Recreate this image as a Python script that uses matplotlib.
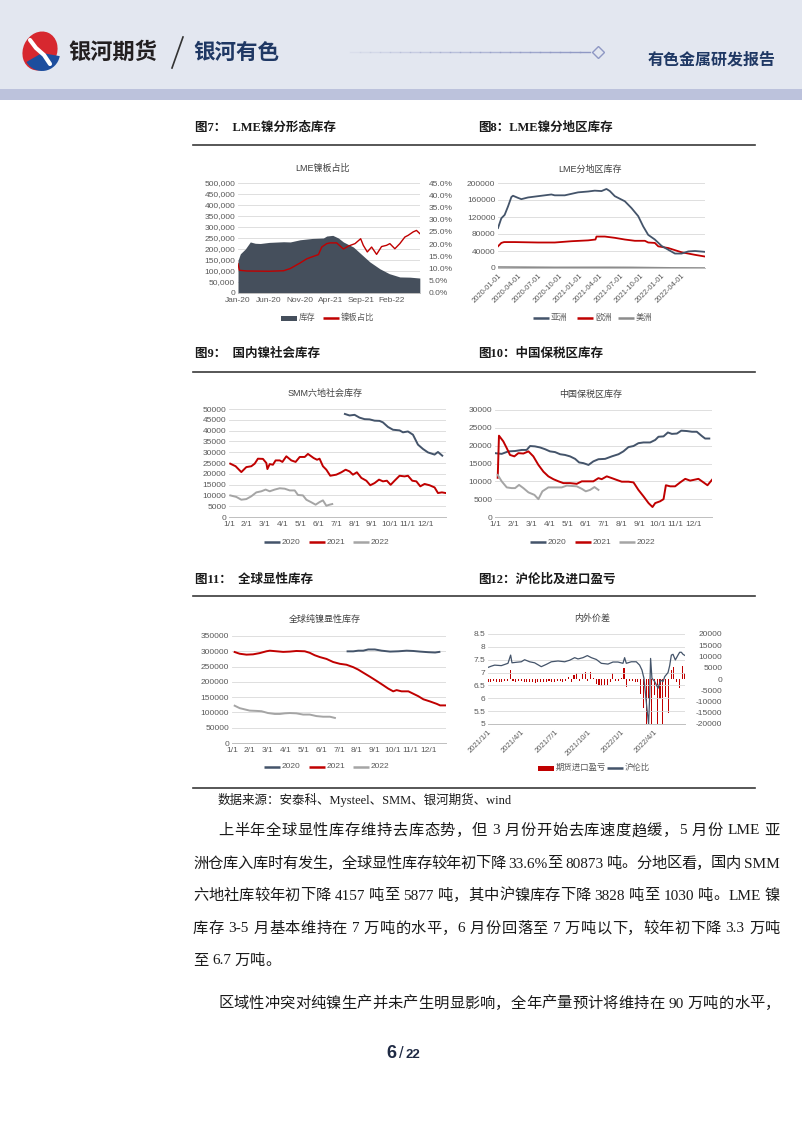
import re
import numpy as np
import matplotlib
matplotlib.use('Agg')
import matplotlib.pyplot as plt
from matplotlib.patches import Rectangle, Ellipse, Wedge
from matplotlib.ticker import FuncFormatter

plt.rcParams['font.family'] = ['Liberation Sans', 'Noto Sans CJK SC']
plt.rcParams['axes.unicode_minus'] = False

W, H = 802, 1133
DARK = '#44546a'
RED = '#c00000'
GREY = '#a5a5a5'
TICK = '#595959'
GRID = '#d9d9d9'
SERIF = ['Liberation Serif', 'Noto Sans CJK SC']
CJK = ['Noto Sans CJK SC', 'DejaVu Sans']

# ---- fig 7: LME stock (area) and plate share (line), x in months from Jan-20
lme_m = [0, 0.38, 1.19, 2.0, 2.81, 3.62, 5.08, 7.41, 8.49, 10.11, 12.11, 13.89, 14.43,
         15.41, 16.32, 17.14, 18.76, 19.95, 21.46, 23.08, 24.59, 26.32, 27.95, 29.57]
lme_stock = [148000, 178000, 200000, 232000, 226000, 225000, 230000, 233000, 232000, 242000,
             248000, 250000, 259000, 262000, 250000, 232000, 209000, 179000, 141000, 110000,
             88000, 73000, 72000, 68000]
share_m = [0, 0.22, 1.46, 5.08, 7.41, 8.49, 10.11, 11.19, 12.27, 13.08, 13.62, 14.43, 14.97,
           16.05, 17.14, 17.95, 19.03, 19.95, 20.38, 21.03, 21.73, 22.54, 23.35, 24.16, 24.70,
           25.51, 26.32, 27.14, 27.68, 28.49, 29.03, 29.57]
share = [0.12, 0.093, 0.09, 0.089, 0.091, 0.10, 0.123, 0.14, 0.15, 0.157, 0.188, 0.202, 0.205,
         0.205, 0.18, 0.192, 0.202, 0.222, 0.195, 0.168, 0.188, 0.158, 0.19, 0.195, 0.202,
         0.181, 0.202, 0.229, 0.236, 0.25, 0.256, 0.243]
lme_xlabels = ['Jan-20', 'Jun-20', 'Nov-20', 'Apr-21', 'Sep-21', 'Feb-22']

# ---- fig 8: LME by region, x in months from 2020-01
asia_m = [0, 0.49, 0.98, 1.48, 1.97, 2.21, 2.95, 3.44, 4.43, 5.90, 7.87, 8.36, 9.84, 11.80,
          13.28, 14.26, 15.25, 15.98, 16.48, 17.21, 18.69, 19.67, 20.66, 21.39, 22.13, 23.11,
          24.10, 25.08, 26.07, 27.05, 28.03, 29.02, 30.49]
asia = [94000, 117000, 125000, 145000, 167000, 170000, 165000, 162000, 166000, 169000, 173000,
        171000, 171000, 178000, 180000, 182000, 181000, 186000, 181000, 169000, 157000, 141000,
        122000, 98000, 78000, 67000, 52000, 43000, 34000, 34000, 39000, 40000, 38000]
europe_m = [0, 0.49, 0.89, 2.46, 5.90, 8.36, 10.82, 13.28, 14.36, 14.51, 15.74, 17.21, 18.69,
            20.16, 21.64, 22.13, 23.11, 23.61, 25.08, 26.07, 27.05, 28.03, 29.02, 30.49]
europe = [51000, 59000, 61000, 61000, 60000, 60000, 63000, 65000, 67000, 74000, 74000, 71000,
          67000, 64000, 64000, 60000, 59000, 51000, 47000, 42000, 37000, 34000, 31000, 27000]
america_m = [0, 8.36, 15.98, 19.67, 25.57, 30.49]
america = [2400, 1500, 1600, 1400, 300, 0]
region_xlabels = ['2020-01-01', '2020-04-01', '2020-07-01', '2020-10-01', '2021-01-01',
                  '2021-04-01', '2021-07-01', '2021-10-01', '2022-01-01', '2022-04-01']

# ---- fig 9: SMM social inventory, x in months from 1/1
smm20_m = [6.49, 6.75, 7.03, 7.31, 7.59, 7.87, 8.15, 8.43, 8.62, 8.90, 9.18, 9.55, 9.74, 10.02,
           10.30, 10.58, 10.86, 11.14, 11.51, 11.70, 11.94]
smm20 = [47700, 47000, 47300, 46000, 45300, 45200, 44600, 44500, 43800, 41700, 40400, 40100,
         39200, 39600, 38100, 33500, 31500, 29900, 28900, 30100, 28400]
smm21_m = [0.07, 0.37, 0.69, 0.97, 1.25, 1.44, 1.62, 1.90, 2.09, 2.15, 2.28, 2.46, 2.61, 2.84,
           2.99, 3.21, 3.49, 3.73, 3.96, 4.24, 4.42, 4.74, 4.93, 5.07, 5.26, 5.45, 5.67, 6.01,
           6.29, 6.53, 6.75, 6.94, 7.16, 7.41, 7.69, 7.91, 8.15, 8.40, 8.62, 8.84, 9.05, 9.27,
           9.55, 9.83, 10.02, 10.26, 10.49, 10.71, 10.95, 11.23, 11.51, 11.70, 11.92, 12.13]
smm21 = [24700, 23500, 20800, 23100, 23500, 24700, 27000, 26900, 25000, 22200, 24500, 24200,
         26200, 26200, 25500, 28100, 26200, 25500, 27800, 27800, 29200, 27300, 26500, 27000,
         23500, 21900, 19100, 19600, 20700, 21900, 21100, 19600, 20700, 18100, 16800, 14700,
         15700, 17300, 16500, 16800, 14900, 16800, 19100, 18800, 19100, 16800, 16500, 14200,
         15300, 14700, 13700, 11100, 11400, 11100]
smm22_m = [0.07, 0.41, 0.69, 0.97, 1.25, 1.53, 1.81, 2.05, 2.28, 2.56, 2.84, 3.12, 3.40, 3.68,
           3.86, 4.14, 4.33, 4.61, 4.85, 5.07, 5.26, 5.45, 5.63, 5.78]
smm22 = [10000, 9300, 8000, 8300, 9600, 11400, 11900, 12700, 11900, 12700, 13300, 13100, 12300,
         12300, 10200, 10000, 8000, 6800, 5700, 6900, 7700, 5200, 5700, 6000]

# ---- fig 10: China bonded zone
bz20_m = [0, 0.37, 0.74, 1.11, 1.48, 1.75, 1.94, 2.21, 2.49, 2.77, 3.04, 3.32, 3.60, 3.87, 4.15,
          4.43, 4.65, 4.89, 5.17, 5.44, 5.72, 6.09, 6.46, 6.83, 7.10, 7.38, 7.66, 7.93, 8.21,
          8.58, 8.86, 9.04, 9.32, 9.56, 9.78, 10.06, 10.30, 10.61, 10.89, 11.16, 11.44, 11.62,
          11.85]
bz20 = [17900, 17700, 18400, 18500, 18800, 18800, 19900, 19800, 19500, 19000, 18400, 18200,
        17600, 17400, 17000, 16300, 15300, 15100, 14600, 15600, 16200, 16300, 17000, 17600,
        18400, 19600, 19900, 20700, 20900, 20900, 21600, 22500, 22600, 23700, 23300, 23400,
        24200, 24100, 23900, 23900, 22700, 22000, 22000]
bz21_m = [0.15, 0.22, 0.46, 0.65, 0.83, 1.07, 1.29, 1.57, 1.85, 2.12, 2.40, 2.68, 2.95, 3.23,
          3.51, 3.78, 4.15, 4.52, 4.80, 5.07, 5.44, 5.72, 5.90, 6.18, 6.46, 6.73, 7.01, 7.38,
          7.66, 7.93, 8.21, 8.49, 8.71, 8.86, 9.13, 9.32, 9.45, 9.69, 9.96, 10.24, 10.52,
          10.79, 10.98, 11.25, 11.53, 11.75, 12.03]
bz21 = [11000, 22800, 21200, 19300, 17400, 17000, 17900, 17800, 18400, 17000, 14600, 12700,
        11400, 10600, 10000, 9500, 9500, 9300, 10000, 10000, 10000, 10900, 10600, 11400, 10900,
        10400, 9900, 9900, 9700, 7600, 5800, 3900, 2800, 3900, 4400, 5000, 8900, 8600, 8600,
        9700, 10700, 10200, 10400, 10700, 9700, 8900, 10600]
bz22_m = [0.15, 0.37, 0.65, 0.92, 1.11, 1.33, 1.57, 1.85, 2.18, 2.40, 2.62, 2.95, 3.32, 3.69,
          3.97, 4.24, 4.52, 4.80, 5.02, 5.26, 5.50, 5.72]
bz22 = [11800, 10000, 8300, 8100, 8100, 9000, 8100, 6900, 6200, 5000, 7200, 8300, 8300, 8300,
        8800, 8700, 8600, 7900, 7200, 7600, 8400, 7600]

# ---- fig 11: global visible inventory
gv20_m = [6.48, 6.80, 7.08, 7.36, 7.64, 8.01, 8.39, 8.86, 9.33, 9.79, 10.17, 10.54, 11.01,
          11.39, 11.63]
gv20 = [299800, 299800, 302000, 302000, 306000, 306000, 302000, 299000, 300000, 302000, 301000,
        299000, 297000, 296000, 298000]
gv21_m = [0.15, 0.43, 0.81, 1.18, 1.55, 1.93, 2.12, 2.49, 2.87, 3.24, 3.61, 4.08, 4.36, 4.64,
          4.93, 5.30, 5.67, 6.05, 6.42, 6.80, 7.08, 7.36, 7.73, 8.11, 8.48, 8.76, 9.04, 9.23,
          9.51, 9.89, 10.17, 10.45, 10.73, 11.10, 11.48, 11.67, 12.00]
gv21 = [297600, 292000, 289000, 290000, 294000, 300000, 302000, 300000, 298000, 299000, 301000,
        300000, 295000, 287000, 281000, 275000, 265000, 259000, 256000, 248000, 240000, 230000,
        217000, 203000, 189000, 178000, 169000, 173000, 169000, 169000, 161000, 153000, 143000,
        136000, 128000, 123000, 123000]
gv22_m = [0.15, 0.43, 0.71, 0.99, 1.37, 1.65, 2.02, 2.40, 2.68, 2.96, 3.24, 3.61, 3.99, 4.36,
          4.74, 5.11, 5.49, 5.77]
gv22 = [122000, 114000, 110000, 106000, 105000, 104000, 98000, 95000, 95000, 97000, 98000,
        97000, 93000, 93000, 88000, 86000, 86000, 82000]

month_labels = ['1/1', '2/1', '3/1', '4/1', '5/1', '6/1', '7/1', '8/1', '9/1', '10/1', '11/1', '12/1']

# ---- fig 12: SHFE/LME ratio and import profit, x in months from 2021/1/1
ratio_m = [0, 0.30, 0.60, 1.20, 1.80, 2.04, 2.16, 2.55, 3.00, 3.30, 3.75, 4.20, 4.80, 5.26,
           5.71, 6.31, 6.91, 7.36, 7.81, 8.11, 8.56, 8.95, 9.31, 9.76, 10.21, 10.81, 11.26,
           11.71, 12.16, 12.31, 12.46, 12.91, 13.36, 13.66, 13.87, 14.05, 14.17, 14.35, 14.47,
           14.56, 14.65, 14.77, 15.02, 15.32, 15.56, 15.77, 15.92, 16.22, 16.37, 16.52, 16.67,
           16.88, 17.12, 17.27, 17.42, 17.57, 17.72]
ratio = [7.20, 7.25, 7.29, 7.27, 7.36, 7.68, 7.38, 7.40, 7.42, 7.50, 7.42, 7.38, 7.23, 7.32,
         7.42, 7.45, 7.42, 7.48, 7.58, 7.53, 7.58, 7.66, 7.58, 7.51, 7.36, 7.33, 7.41, 7.41,
         7.36, 7.58, 7.36, 7.42, 7.42, 7.29, 7.10, 6.78, 6.26, 5.48, 5.00, 6.00, 7.55, 6.78,
         6.65, 6.39, 6.71, 6.65, 6.84, 7.00, 7.27, 7.68, 7.71, 7.49, 7.68, 7.79, 7.79, 7.71, 7.67]
# weekly import profit, one value per quarter month from 2021/1/1
profit = [-1200, -1500, -1000, -1300, -1200, -1500, -1000, -800, 4000, -1000, -1200, -800,
          -1000, -1200, -1500, -1200, -1500, -1800, -1500, -1300, -1500, -1200, -1000, -1300,
          -1200, -1000, -800, -1300, -1000, 800, -1200, 2000, 2500, -800, 2200, 3000,
          -1000, 3000, 500, -2000, -2500, -3000, -2800, -2500, -1500, 2500, -800, -1000,
          500, 4700, -3500, -800, -1000, -1500, -1200, -6500, -13000, -20000, -9000, -20000,
          -7000, -20000, -9000, -20000, -8000, -15000, 4000, 5500, -1500, -4000, 6000, 2500]
spread_xlabels = ['2021/1/1', '2021/4/1', '2021/7/1', '2021/10/1', '2022/1/1', '2022/4/1']

body_lines = [
    '上半年全球显性库存维持去库态势，但 3 月份开始去库速度趋缓，5 月份 LME 亚',
    '洲仓库入库时有发生，全球显性库存较年初下降 33.6%至 80873 吨。分地区看，国内 SMM',
    '六地社库较年初下降 4157 吨至 5877 吨，其中沪镍库存下降 3828 吨至 1030 吨。LME 镍',
    '库存 3-5 月基本维持在 7 万吨的水平，6 月份回落至 7 万吨以下，较年初下降 3.3 万吨',
    '至 6.7 万吨。',
    '区域性冲突对纯镍生产并未产生明显影响，全年产量预计将维持在 90 万吨的水平，',
]

fig = plt.figure(figsize=(W / 100, H / 100), dpi=100)
bg = fig.add_axes([0, 0, 1, 1])
bg.set_xlim(0, W)
bg.set_ylim(H, 0)
bg.axis('off')


def px_axes(l, t, r, b):
    return fig.add_axes([l / W, 1 - b / H, (r - l) / W, (b - t) / H])


def style(ax, ylim, yticks):
    ax.set_facecolor('none')
    for s in ('top', 'right', 'left'):
        ax.spines[s].set_visible(False)
    ax.spines['bottom'].set_color('#bfbfbf')
    ax.spines['bottom'].set_linewidth(0.7)
    ax.set_ylim(*ylim)
    ax.set_yticks(yticks)
    ax.grid(axis='y', color=GRID, lw=0.6)
    ax.set_axisbelow(True)
    ax.tick_params(axis='both', length=0, labelsize=6, colors=TICK, pad=2)
    ax.tick_params(axis='x', pad=3)


def legend(items, y):
    for kind, x0, color, label in items:
        if kind == 'line':
            bg.plot([x0, x0 + 16], [y, y], color=color, lw=1.8, solid_capstyle='butt')
        else:
            bg.add_patch(Rectangle((x0, y - 2.5), 16, 5, color=color, lw=0))
        bg.text(x0 + 18, y, label, fontsize=6, color=TICK, va='center')


# ---------------- header
bg.add_patch(Rectangle((0, 0), W, 89, color='#e3e7f0', lw=0))
bg.add_patch(Rectangle((0, 89), W, 11, color='#bcc2dc', lw=0))
bg.add_patch(Ellipse((40, 51), 34, 40, angle=25, color='#d7282f', lw=0))
bg.add_patch(Wedge((42, 53), 18, 10, 150, color='#1d4e9e', lw=0))
bg.plot([30, 36, 44, 50], [40, 48, 55, 64], color='white', lw=3, solid_capstyle='round')
bg.text(68, 52, '银河期货', fontsize=16, fontweight='bold', color='#231f20', va='center',
        family=CJK)
bg.plot([172, 183], [68, 37], color='#333333', lw=1.2)
bg.text(193, 52, '银河有色', fontsize=15.5, fontweight='bold', color='#1f3864', va='center',
        family=CJK)
for i in range(24):
    x0 = 350 + i * 10
    bg.plot([x0, x0 + 10], [52, 52], color='#8f98c4', lw=1, alpha=0.1 + 0.9 * i / 23)
bg.plot(598, 52, marker='D', ms=6, mfc='#e3e7f0', mec='#8f98c4', mew=1)
bg.text(776, 60, '有色金属研发报告', fontsize=11.5, fontweight='bold', color='#1f3864',
        ha='right', va='center', family=CJK)

# ---------------- section rules and figure titles
for yy in (145, 372, 596, 788):
    bg.plot([193, 755], [yy, yy], color='#3a3a3a', lw=1.2)
fig_titles = [(195, 128, '图7：  LME镍分形态库存'), (478, 128, '图8：LME镍分地区库存'),
              (195, 354, '图9：  国内镍社会库存'), (478, 354, '图10：中国保税区库存'),
              (195, 580, '图11：  全球显性库存'), (478, 580, '图12：沪伦比及进口盈亏')]
for x, y, t in fig_titles:
    bg.text(x, y, t, fontsize=9, fontweight='bold', color='#1a1a1a', va='center', family=SERIF)
chart_titles = [(322, 168, 'LME镍板占比'), (590, 169, 'LME分地区库存'),
                (325, 393, 'SMM六地社会库存'), (591, 394, '中国保税区库存'),
                (325, 619, '全球纯镍显性库存'), (592, 618, '内外价差')]
for x, y, t in chart_titles:
    bg.text(x, y, t, fontsize=6.5, color='#404040', ha='center', va='center')

# ---------------- fig 7
ax7 = px_axes(238, 183, 420, 293)
style(ax7, (0, 500000), range(0, 500001, 50000))
ax7.fill_between(lme_m, lme_stock, color='#454f5c', lw=0)
ax7.set_xlim(0, 29.6)
ax7.set_xticks([0, 5, 10, 15, 20, 25])
ax7.set_xticklabels(lme_xlabels)
ax7.yaxis.set_major_formatter(FuncFormatter(lambda v, p: f'{int(v):,}'))
ax7r = ax7.twinx()
ax7r.plot(share_m, share, color=RED, lw=1)
ax7r.set_ylim(0, 0.45)
ax7r.set_yticks(np.arange(0, 0.451, 0.05))
ax7r.yaxis.set_major_formatter(FuncFormatter(lambda v, p: f'{v * 100:.1f}%'))
ax7r.tick_params(length=0, labelsize=6, colors=TICK, pad=6)
for s in ax7r.spines.values():
    s.set_visible(False)
legend([('rect', 281, '#454f5c', '库存'), ('line', 323, RED, '镍板占比')], 318)

# ---------------- fig 8
ax8 = px_axes(498, 183, 705, 268)
style(ax8, (0, 200000), range(0, 200001, 40000))
ax8.plot(america_m, america, color='#8c8c8c', lw=1.2)
ax8.plot(europe_m, europe, color=RED, lw=1.3)
ax8.plot(asia_m, asia, color=DARK, lw=1.3)
ax8.set_xlim(0, 30.5)
ax8.set_xticks(range(0, 28, 3))
ax8.set_xticklabels(region_xlabels, rotation=45, ha='right', rotation_mode='anchor', fontsize=5.5)
legend([('line', 533, DARK, '亚洲'), ('line', 577, RED, '欧洲'), ('line', 618, '#8c8c8c', '美洲')], 318)

# ---------------- fig 9 / 10 / 11
year_series = [
    ((229, 409, 446, 517), 12.15, (0, 50000), range(0, 50001, 5000),
     [(smm20_m, smm20), (smm21_m, smm21), (smm22_m, smm22)], 264, 542),
    ((495, 410, 712, 517), 12.0, (0, 30000), range(0, 30001, 5000),
     [(bz20_m, bz20), (bz21_m, bz21), (bz22_m, bz22)], 530, 542),
    ((232, 636, 446, 743), 12.0, (0, 350000), range(0, 350001, 50000),
     [(gv20_m, gv20), (gv21_m, gv21), (gv22_m, gv22)], 264, 767),
]
for box, xmax, ylim, yt, series, lx, ly in year_series:
    ax = px_axes(*box)
    style(ax, ylim, yt)
    for (xm, yv), c in zip(series, (DARK, RED, GREY)):
        ax.plot(xm, yv, color=c, lw=1.4)
    ax.set_xlim(0, xmax)
    ax.set_xticks(range(12))
    ax.set_xticklabels(month_labels)
    legend([('line', lx, DARK, '2020'), ('line', lx + 45, RED, '2021'),
            ('line', lx + 89, GREY, '2022')], ly)

# ---------------- fig 12
ax12 = px_axes(488, 634, 685, 724)
style(ax12, (5, 8.5), np.arange(5, 8.51, 0.5))
ax12.yaxis.set_major_formatter(FuncFormatter(lambda v, p: f'{v:g}'))
ax12.set_xlim(0, 17.75)
ax12.set_xticks([0, 3, 6, 9, 12, 15])
ax12.set_xticklabels(spread_xlabels, rotation=45, ha='right', rotation_mode='anchor', fontsize=5.5)
ax12r = ax12.twinx()
pm = np.arange(len(profit)) * 0.25
ax12r.bar(pm, profit, width=0.1, color=RED, lw=0)
ax12r.set_ylim(-20000, 20000)
ax12r.set_yticks(range(-20000, 20001, 5000))
ax12r.tick_params(length=0, labelsize=6, colors=TICK, pad=27)
for lab in ax12r.get_yticklabels():
    lab.set_ha('right')
for s in ax12r.spines.values():
    s.set_visible(False)
ax12.plot(ratio_m, ratio, color=DARK, lw=0.9)
ax12.set_zorder(ax12r.get_zorder() + 1)
legend([('rect', 538, RED, '期货进口盈亏'), ('line', 607, DARK, '沪伦比')], 768)

# ---------------- source and body text
bg.text(218, 800, '数据来源：安泰科、Mysteel、SMM、银河期货、wind', fontsize=9,
        color='#1a1a1a', va='center', family=SERIF)

renderer = fig.canvas.get_renderer()


def justify(x0, x1, y, s, size=11):
    toks = re.findall(r'[\x21-\x7e]+| +|.', s)
    widths = []
    for t in toks:
        if t.strip() == '':
            widths.append(0.25 * size * 100 / 72 * len(t))
            continue
        tt = bg.text(0, 0, t, fontsize=size, family=SERIF)
        widths.append(tt.get_window_extent(renderer).width)
        tt.remove()
    gap = 0 if x1 is None else (x1 - x0 - sum(widths)) / (len(toks) - 1)
    x = x0
    for t, w in zip(toks, widths):
        if t.strip():
            bg.text(x, y, t, fontsize=size, family=SERIF, color='#1a1a1a', va='center')
        x += w + gap


line_pos = [(218, 780, 831), (193, 780, 864), (193, 780, 896), (193, 780, 929),
            (193, None, 961), (218, 780, 1004)]
for (x0, x1, y), s in zip(line_pos, body_lines):
    justify(x0, x1, y, s)

# ---------------- page number
bg.text(396, 1053, '6', fontsize=13, fontweight='bold', color='#1f2a44', ha='right', va='center')
bg.text(401, 1053, '/', fontsize=12, color='#1f2a44', ha='center', va='center')
bg.text(406, 1055, '22', fontsize=9.5, fontweight='bold', color='#1f2a44', ha='left', va='center')

fig.savefig('out.png', dpi=100)
